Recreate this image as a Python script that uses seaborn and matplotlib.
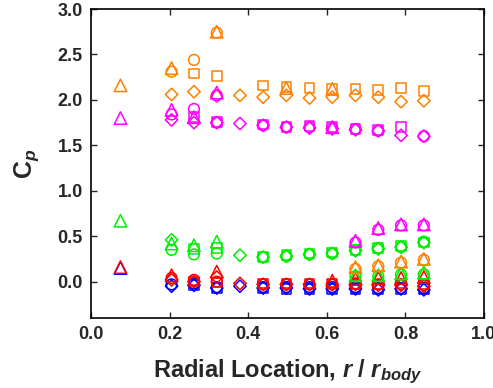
import numpy as np
import pandas as pd
import matplotlib
matplotlib.use("Agg")
import matplotlib.pyplot as plt
import seaborn as sns

n = np.nan
# radial locations r / r_body
x_pos = [0.075, 0.205, 0.262, 0.32, 0.379, 0.438, 0.497, 0.556, 0.614, 0.673, 0.731, 0.789, 0.847]

blue_tri  = [0.15, n, n, n, n, n, n, n, n, n, n, n, n]
blue_circ = [n, -0.03, -0.02, -0.06, n, -0.06, -0.06, -0.06, -0.06, -0.06, -0.07, -0.07, -0.07]
blue_sq   = [n, n, -0.04, -0.07, n, -0.07, -0.08, -0.08, -0.08, -0.08, -0.08, -0.08, -0.08]
blue_diam = [n, -0.05, -0.04, -0.07, -0.05, -0.07, -0.07, -0.08, -0.08, -0.08, -0.09, -0.08, -0.09]

red_tri  = [0.16, 0.07, n, 0.11, n, n, n, n, 0.01, 0.03, 0.04, 0.04, 0.05]
red_circ = [n, 0.04, 0.02, 0.00, n, -0.03, -0.03, -0.03, -0.03, -0.02, -0.03, -0.03, -0.04]
red_sq   = [n, n, 0.00, -0.01, n, -0.02, -0.02, -0.02, -0.02, -0.03, -0.03, -0.02, -0.03]
red_diam = [n, 0.02, 0.00, 0.05, -0.02, -0.03, -0.03, -0.03, -0.03, -0.03, -0.04, -0.04, -0.05]

green_tri    = [0.67, 0.42, 0.40, 0.44, n, n, n, n, n, 0.07, 0.07, 0.09, 0.10]
green_circ   = [n, 0.35, 0.30, 0.31, n, 0.27, 0.28, 0.30, 0.31, 0.35, 0.37, 0.38, 0.44]
green_circ_b = [n, n, n, n, n, n, n, n, n, 0.06, 0.06, 0.08, 0.08]
green_sq     = [n, n, 0.36, 0.37, n, 0.27, 0.29, 0.31, 0.32, 0.35, 0.37, 0.39, 0.43]
green_diam   = [n, 0.46, n, n, 0.29, 0.27, 0.28, 0.30, 0.31, 0.34, 0.36, 0.38, 0.43]

orange_tri  = [2.16, 2.35, n, 2.75, n, n, 2.13, n, 2.12, 0.16, 0.18, 0.22, 0.25]
orange_circ = [n, 2.31, 2.44, 2.74, n, n, n, n, n, 0.14, 0.17, 0.21, 0.24]
orange_sq   = [n, n, 2.29, 2.26, n, 2.16, 2.14, 2.13, 2.12, 2.12, 2.11, 2.13, 2.10]
orange_diam = [n, 2.06, 2.09, 2.04, 2.05, 2.03, 2.05, 2.02, 2.03, 2.05, 2.03, 1.98, 1.99]

magenta_tri    = [1.80, 1.89, 1.81, 2.08, n, n, n, n, 1.70, 0.45, 0.59, 0.63, 0.63]
magenta_circ   = [n, 1.84, 1.90, 1.75, n, 1.72, 1.70, 1.70, 1.69, 1.68, 1.66, n, 1.60]
magenta_circ_b = [n, n, n, 2.05, n, n, n, n, n, 0.43, 0.57, 0.62, 0.62]
magenta_sq     = [n, n, 1.81, 1.76, n, 1.73, 1.70, 1.71, 1.70, 1.68, 1.67, 1.70, n]
magenta_diam   = [n, 1.78, 1.75, 1.75, 1.74, 1.72, 1.70, 1.69, 1.68, 1.67, 1.66, 1.61, 1.60]

colors = {"blue": "#0000ff", "red": "#ff0000", "green": "#00ee00",
          "orange": "#ff8000", "magenta": "#ff00ff"}

series = [
    ("blue", "^", blue_tri), ("blue", "o", blue_circ), ("blue", "s", blue_sq), ("blue", "D", blue_diam),
    ("red", "^", red_tri), ("red", "o", red_circ), ("red", "s", red_sq), ("red", "D", red_diam),
    ("green", "^", green_tri), ("green", "o", green_circ), ("green", "o", green_circ_b),
    ("green", "s", green_sq), ("green", "D", green_diam),
    ("orange", "^", orange_tri), ("orange", "o", orange_circ), ("orange", "s", orange_sq),
    ("orange", "D", orange_diam),
    ("magenta", "^", magenta_tri), ("magenta", "o", magenta_circ), ("magenta", "o", magenta_circ_b),
    ("magenta", "s", magenta_sq), ("magenta", "D", magenta_diam),
]

sizes = {"^": 80, "o": 60, "s": 48, "D": 40}

sns.set_style("ticks")
plt.rcParams["font.family"] = ["Liberation Sans", "DejaVu Sans"]
plt.rcParams["font.weight"] = "bold"
plt.rcParams["mathtext.fontset"] = "custom"
plt.rcParams["mathtext.rm"] = "Liberation Sans:bold"
plt.rcParams["mathtext.it"] = "Liberation Sans:italic:bold"
plt.rcParams["mathtext.bf"] = "Liberation Sans:bold"

fig = plt.figure(figsize=(4.93, 3.88), dpi=100)
ax = fig.add_axes([0.1846, 0.1804, 0.7971, 0.7964])

for cname, mk, vals in series:
    df = pd.DataFrame({"x": x_pos, "y": vals}).dropna()
    c = colors[cname]
    sns.scatterplot(data=df, x="x", y="y", ax=ax, marker=mk, s=sizes[mk],
                    color=c, legend=False)
    coll = ax.collections[-1]
    coll.set_facecolor("none")
    coll.set_edgecolor(c)
    coll.set_linewidth(1.1)

ax.set_xlim(0.0, 1.0)
ax.set_ylim(-0.4, 3.0)
ax.set_xticks([0.0, 0.2, 0.4, 0.6, 0.8, 1.0])
ax.set_yticks([0.0, 0.5, 1.0, 1.5, 2.0, 2.5, 3.0])
ax.set_xticklabels(["0.0", "0.2", "0.4", "0.6", "0.8", "1.0"])
ax.set_yticklabels(["0.0", "0.5", "1.0", "1.5", "2.0", "2.5", "3.0"])
ax.tick_params(direction="in", top=True, right=True, length=4, width=1,
               labelsize=13, pad=6)
for lab in ax.get_xticklabels() + ax.get_yticklabels():
    lab.set_fontweight("bold")
for sp in ax.spines.values():
    sp.set_visible(True)
    sp.set_linewidth(1.2)
    sp.set_color("black")

ax.set_xlabel(r"Radial Location, $r$ / $r_{body}$", fontsize=17, fontweight="bold", labelpad=10)
ax.set_ylabel(r"C$_p$", fontsize=18, fontweight="bold", labelpad=12)

fig.savefig("out.png", dpi=100)
